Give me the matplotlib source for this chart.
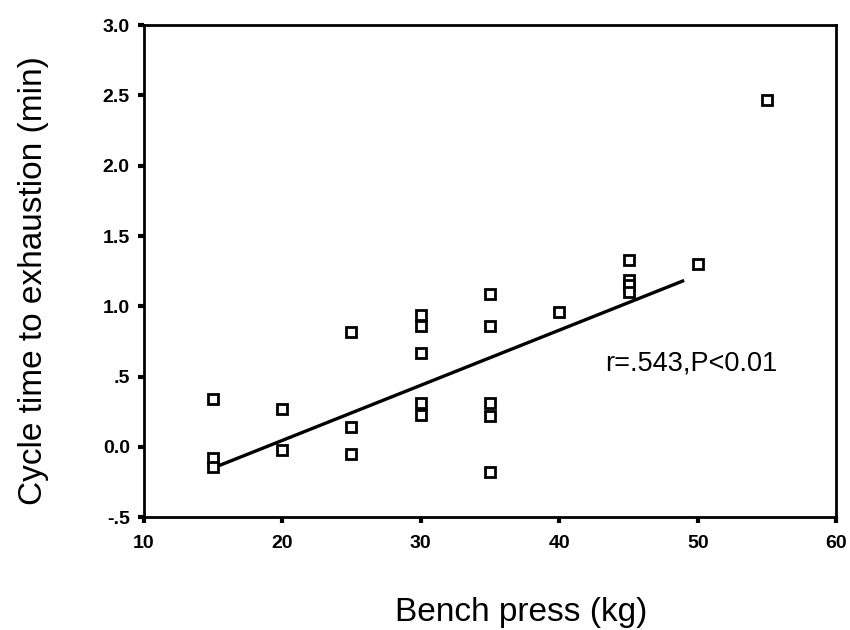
import matplotlib
matplotlib.use("Agg")
import matplotlib.pyplot as plt

plt.rcParams['font.family'] = ['Liberation Sans', 'DejaVu Sans']

# Bench press load (kg) and cycle time to exhaustion (min) per subject
bench_kg = [15, 15, 15, 20, 20, 25, 25, 25,
            30, 30, 30, 30, 30,
            35, 35, 35, 35, 35,
            40, 45, 45, 45, 45, 50, 55]
cycle_min = [0.34, -0.08, -0.14, 0.27, -0.02, 0.82, 0.14, -0.05,
             0.94, 0.86, 0.67, 0.31, 0.23,
             1.09, 0.86, 0.31, 0.22, -0.18,
             0.96, 1.33, 1.19, 1.15, 1.10, 1.30, 2.47]

# Regression line end points
fit_x = [15, 48.9]
fit_y = [-0.15, 1.18]

x_ticks = [10, 20, 30, 40, 50, 60]
y_ticks = [-0.5, 0.0, 0.5, 1.0, 1.5, 2.0, 2.5, 3.0]
y_tick_labels = ['-.5', '0.0', '.5', '1.0', '1.5', '2.0', '2.5', '3.0']

fig = plt.figure(figsize=(8.5, 6.3), dpi=100)
ax = fig.add_axes([0.169, 0.179, 0.815, 0.781])

ax.plot(fit_x, fit_y, color='black', linewidth=2.4, zorder=2)
ax.plot(bench_kg, cycle_min, linestyle='none', marker='s', markersize=7,
        markerfacecolor='white', markeredgecolor='black', markeredgewidth=2,
        zorder=3)

ax.text(43.3, 0.59, 'r=.543,P<0.01', fontsize=19.5, va='center', ha='left')

ax.set_xlim(10, 60)
ax.set_ylim(-0.5, 3.0)
ax.set_xticks(x_ticks)
ax.set_yticks(y_ticks)
ax.set_yticklabels(y_tick_labels)

for spine in ax.spines.values():
    spine.set_linewidth(2)
ax.tick_params(direction='out', length=4, width=3, labelsize=14)
ax.tick_params(axis='x', pad=9)
ax.tick_params(axis='y', pad=6)
for lab in ax.get_xticklabels() + ax.get_yticklabels():
    lab.set_fontweight('bold')

ax.set_xlabel('Bench press (kg)', fontsize=24)
ax.xaxis.set_label_coords(0.545, -0.163)
ax.set_ylabel('Cycle time to exhaustion (min)', fontsize=24)
ax.yaxis.set_label_coords(-0.137, 0.48)

fig.savefig('out.png', dpi=100)
